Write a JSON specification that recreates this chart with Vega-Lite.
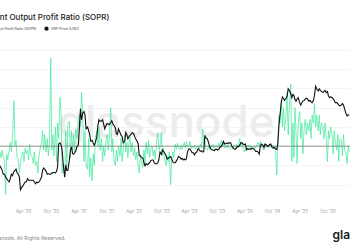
{
 "$schema": "https://vega.github.io/schema/vega-lite/v6.json",
 "width": 350,
 "height": 150,
 "autosize": {"type": "none"},
 "padding": {"left": 0, "right": 0, "top": 50, "bottom": 50},
 "background": "white",
 "config": {"font": "Inter", "view": {"stroke": null}},
 "title": {"text": "Spent Output Profit Ratio (SOPR)", "anchor": "start", "frame": "group", "fontSize": 8, "fontWeight": 500, "color": "#222222", "dx": -15, "offset": 4},
 "data": {"values": [
{"t":"2019-11-01","s":0.985,"p":0.31},{"t":"2019-11-08","s":0.97,"p":0.29},{"t":"2019-11-15","s":0.99,"p":0.27},{"t":"2019-11-22","s":0.975,"p":0.24},
{"t":"2019-12-01","s":0.96,"p":0.24},{"t":"2019-12-08","s":0.875,"p":0.22},{"t":"2019-12-15","s":0.98,"p":0.21},{"t":"2019-12-22","s":0.965,"p":0.20},
{"t":"2020-01-01","s":0.99,"p":0.19},{"t":"2020-01-08","s":1.01,"p":0.21},{"t":"2020-01-15","s":0.985,"p":0.24},{"t":"2020-01-22","s":1.02,"p":0.23},
{"t":"2020-02-01","s":1.118,"p":0.26},{"t":"2020-02-08","s":1.0,"p":0.27},{"t":"2020-02-15","s":1.015,"p":0.28},{"t":"2020-02-22","s":0.97,"p":0.25},
{"t":"2020-03-01","s":0.965,"p":0.24},{"t":"2020-03-08","s":0.93,"p":0.22},{"t":"2020-03-15","s":0.955,"p":0.15},{"t":"2020-03-22","s":0.975,"p":0.16},
{"t":"2020-04-01","s":0.985,"p":0.17},{"t":"2020-04-08","s":0.96,"p":0.18},{"t":"2020-04-15","s":0.995,"p":0.19},{"t":"2020-04-22","s":0.98,"p":0.19},
{"t":"2020-05-01","s":0.99,"p":0.21},{"t":"2020-05-08","s":0.965,"p":0.20},{"t":"2020-05-15","s":1.005,"p":0.20},{"t":"2020-05-22","s":0.98,"p":0.20},
{"t":"2020-06-01","s":0.97,"p":0.20},{"t":"2020-06-08","s":0.955,"p":0.20},{"t":"2020-06-15","s":0.985,"p":0.19},{"t":"2020-06-22","s":0.95,"p":0.18},
{"t":"2020-07-01","s":0.96,"p":0.19},{"t":"2020-07-08","s":0.93,"p":0.185},{"t":"2020-07-15","s":0.975,"p":0.19},{"t":"2020-07-22","s":0.99,"p":0.20},
{"t":"2020-08-01","s":1.01,"p":0.22},{"t":"2020-08-08","s":1.04,"p":0.27},{"t":"2020-08-15","s":0.99,"p":0.29},{"t":"2020-08-22","s":1.03,"p":0.28},
{"t":"2020-09-01","s":0.985,"p":0.26},{"t":"2020-09-08","s":1.02,"p":0.24},{"t":"2020-09-15","s":0.975,"p":0.245},{"t":"2020-09-22","s":1.005,"p":0.24},
{"t":"2020-10-01","s":1.229,"p":0.24},{"t":"2020-10-08","s":0.99,"p":0.25},{"t":"2020-10-15","s":1.03,"p":0.25},{"t":"2020-10-22","s":0.975,"p":0.255},
{"t":"2020-11-01","s":1.05,"p":0.25},{"t":"2020-11-08","s":0.96,"p":0.26},{"t":"2020-11-15","s":1.06,"p":0.30},{"t":"2020-11-22","s":1.02,"p":0.60},
{"t":"2020-12-01","s":1.127,"p":0.62},{"t":"2020-12-08","s":1.09,"p":0.58},{"t":"2020-12-15","s":0.93,"p":0.50},{"t":"2020-12-22","s":0.955,"p":0.33},
{"t":"2021-01-01","s":0.92,"p":0.22},{"t":"2021-01-08","s":1.04,"p":0.32},{"t":"2021-01-15","s":0.95,"p":0.27},{"t":"2021-01-22","s":1.06,"p":0.27},
{"t":"2021-02-01","s":1.065,"p":0.37},{"t":"2021-02-08","s":0.97,"p":0.50},{"t":"2021-02-15","s":1.04,"p":0.55},{"t":"2021-02-22","s":0.99,"p":0.45},
{"t":"2021-03-01","s":1.03,"p":0.44},{"t":"2021-03-08","s":0.985,"p":0.46},{"t":"2021-03-15","s":1.045,"p":0.48},{"t":"2021-03-22","s":1.02,"p":0.55},
{"t":"2021-04-01","s":1.06,"p":0.58},{"t":"2021-04-08","s":1.08,"p":0.98},{"t":"2021-04-15","s":1.05,"p":1.75},{"t":"2021-04-22","s":1.14,"p":1.25},
{"t":"2021-05-01","s":1.07,"p":1.55},{"t":"2021-05-08","s":0.96,"p":1.60},{"t":"2021-05-15","s":1.04,"p":1.45},{"t":"2021-05-22","s":0.95,"p":0.95},
{"t":"2021-06-01","s":0.94,"p":1.00},{"t":"2021-06-08","s":1.02,"p":0.90},{"t":"2021-06-15","s":0.92,"p":0.80},{"t":"2021-06-22","s":0.97,"p":0.65},
{"t":"2021-07-01","s":0.91,"p":0.67},{"t":"2021-07-08","s":0.98,"p":0.62},{"t":"2021-07-15","s":0.95,"p":0.58},{"t":"2021-07-22","s":1.02,"p":0.62},
{"t":"2021-08-01","s":1.04,"p":0.75},{"t":"2021-08-08","s":1.0,"p":1.05},{"t":"2021-08-15","s":1.05,"p":1.25},{"t":"2021-08-22","s":0.99,"p":1.20},
{"t":"2021-09-01","s":1.02,"p":1.20},{"t":"2021-09-08","s":0.96,"p":1.25},{"t":"2021-09-15","s":1.0,"p":1.10},{"t":"2021-09-22","s":0.975,"p":0.95},
{"t":"2021-10-01","s":1.015,"p":1.05},{"t":"2021-10-08","s":1.03,"p":1.12},{"t":"2021-10-15","s":0.99,"p":1.10},{"t":"2021-10-22","s":1.01,"p":1.08},
{"t":"2021-11-01","s":1.10,"p":1.15},{"t":"2021-11-08","s":0.985,"p":1.22},{"t":"2021-11-15","s":1.02,"p":1.10},{"t":"2021-11-22","s":0.965,"p":1.05},
{"t":"2021-12-01","s":0.95,"p":0.98},{"t":"2021-12-08","s":0.99,"p":0.82},{"t":"2021-12-15","s":0.96,"p":0.80},{"t":"2021-12-22","s":1.0,"p":0.95},
{"t":"2022-01-01","s":0.975,"p":0.85},{"t":"2022-01-08","s":1.02,"p":0.78},{"t":"2022-01-15","s":0.96,"p":0.76},{"t":"2022-01-22","s":0.99,"p":0.62},
{"t":"2022-02-01","s":1.03,"p":0.65},{"t":"2022-02-08","s":0.985,"p":0.85},{"t":"2022-02-15","s":1.01,"p":0.80},{"t":"2022-02-22","s":0.97,"p":0.70},
{"t":"2022-03-01","s":1.005,"p":0.75},{"t":"2022-03-08","s":1.025,"p":0.78},{"t":"2022-03-15","s":0.985,"p":0.80},{"t":"2022-03-22","s":1.01,"p":0.85},
{"t":"2022-04-01","s":0.975,"p":0.82},{"t":"2022-04-08","s":0.995,"p":0.75},{"t":"2022-04-15","s":0.965,"p":0.70},{"t":"2022-04-22","s":0.985,"p":0.66},
{"t":"2022-05-01","s":0.95,"p":0.60},{"t":"2022-05-08","s":0.93,"p":0.42},{"t":"2022-05-15","s":0.975,"p":0.42},{"t":"2022-05-22","s":0.96,"p":0.40},
{"t":"2022-06-01","s":0.945,"p":0.39},{"t":"2022-06-08","s":0.99,"p":0.34},{"t":"2022-06-15","s":0.955,"p":0.31},{"t":"2022-06-22","s":1.01,"p":0.33},
{"t":"2022-07-01","s":0.98,"p":0.32},{"t":"2022-07-08","s":1.015,"p":0.33},{"t":"2022-07-15","s":0.97,"p":0.34},{"t":"2022-07-22","s":0.99,"p":0.36},
{"t":"2022-08-01","s":1.0,"p":0.37},{"t":"2022-08-08","s":0.975,"p":0.37},{"t":"2022-08-15","s":0.99,"p":0.34},{"t":"2022-08-22","s":0.965,"p":0.33},
{"t":"2022-09-01","s":1.02,"p":0.33},{"t":"2022-09-08","s":1.035,"p":0.34},{"t":"2022-09-15","s":0.99,"p":0.38},{"t":"2022-09-22","s":1.0,"p":0.47},
{"t":"2022-10-01","s":1.034,"p":0.44},{"t":"2022-10-08","s":0.975,"p":0.50},{"t":"2022-10-15","s":0.995,"p":0.48},{"t":"2022-10-22","s":0.965,"p":0.46},
{"t":"2022-11-01","s":0.95,"p":0.42},{"t":"2022-11-08","s":0.975,"p":0.38},{"t":"2022-11-15","s":0.96,"p":0.39},{"t":"2022-11-22","s":0.985,"p":0.40},
{"t":"2022-12-01","s":0.90,"p":0.41},{"t":"2022-12-08","s":0.965,"p":0.38},{"t":"2022-12-15","s":0.985,"p":0.35},{"t":"2022-12-22","s":0.97,"p":0.34},
{"t":"2023-01-01","s":1.005,"p":0.34},{"t":"2023-01-08","s":0.992,"p":0.36},{"t":"2023-01-15","s":1.008,"p":0.38},{"t":"2023-01-22","s":0.997,"p":0.41},
{"t":"2023-02-01","s":0.99,"p":0.40},{"t":"2023-02-08","s":1.003,"p":0.38},{"t":"2023-02-15","s":0.992,"p":0.39},{"t":"2023-02-22","s":1.0,"p":0.37},
{"t":"2023-03-01","s":1.01,"p":0.38},{"t":"2023-03-08","s":0.995,"p":0.37},{"t":"2023-03-15","s":1.012,"p":0.38},{"t":"2023-03-22","s":1.0,"p":0.47},
{"t":"2023-04-01","s":1.0,"p":0.52},{"t":"2023-04-08","s":1.012,"p":0.51},{"t":"2023-04-15","s":0.992,"p":0.49},{"t":"2023-04-22","s":1.0,"p":0.46},
{"t":"2023-05-01","s":0.995,"p":0.46},{"t":"2023-05-08","s":1.003,"p":0.43},{"t":"2023-05-15","s":0.992,"p":0.46},{"t":"2023-05-22","s":0.998,"p":0.47},
{"t":"2023-06-01","s":1.0,"p":0.52},{"t":"2023-06-08","s":0.992,"p":0.50},{"t":"2023-06-15","s":1.005,"p":0.48},{"t":"2023-06-22","s":0.995,"p":0.49},
{"t":"2023-07-01","s":1.045,"p":0.47},{"t":"2023-07-08","s":1.005,"p":0.48},{"t":"2023-07-15","s":1.02,"p":0.78},{"t":"2023-07-22","s":0.993,"p":0.72},
{"t":"2023-08-01","s":0.99,"p":0.70},{"t":"2023-08-08","s":1.0,"p":0.63},{"t":"2023-08-15","s":0.992,"p":0.56},{"t":"2023-08-22","s":1.003,"p":0.52},
{"t":"2023-09-01","s":0.997,"p":0.50},{"t":"2023-09-08","s":1.005,"p":0.50},{"t":"2023-09-15","s":0.995,"p":0.49},{"t":"2023-09-22","s":1.0,"p":0.51},
{"t":"2023-10-01","s":1.003,"p":0.51},{"t":"2023-10-08","s":0.995,"p":0.50},{"t":"2023-10-15","s":1.008,"p":0.51},{"t":"2023-10-22","s":1.0,"p":0.54},
{"t":"2023-11-01","s":1.015,"p":0.56},{"t":"2023-11-08","s":1.0,"p":0.60},{"t":"2023-11-15","s":1.008,"p":0.65},{"t":"2023-11-22","s":0.995,"p":0.60},
{"t":"2023-12-01","s":1.003,"p":0.61},{"t":"2023-12-08","s":0.995,"p":0.62},{"t":"2023-12-15","s":1.005,"p":0.61},{"t":"2023-12-22","s":0.997,"p":0.62},
{"t":"2024-01-01","s":0.992,"p":0.62},{"t":"2024-01-08","s":1.0,"p":0.57},{"t":"2024-01-15","s":0.995,"p":0.54},{"t":"2024-01-22","s":1.003,"p":0.52},
{"t":"2024-02-01","s":0.997,"p":0.51},{"t":"2024-02-08","s":1.005,"p":0.53},{"t":"2024-02-15","s":0.995,"p":0.56},{"t":"2024-02-22","s":1.003,"p":0.55},
{"t":"2024-03-01","s":1.02,"p":0.58},{"t":"2024-03-08","s":1.0,"p":0.62},{"t":"2024-03-15","s":1.01,"p":0.63},{"t":"2024-03-22","s":0.995,"p":0.60},
{"t":"2024-04-01","s":0.985,"p":0.59},{"t":"2024-04-08","s":1.0,"p":0.60},{"t":"2024-04-15","s":0.992,"p":0.50},{"t":"2024-04-22","s":1.003,"p":0.52},
{"t":"2024-05-01","s":0.997,"p":0.51},{"t":"2024-05-08","s":1.003,"p":0.52},{"t":"2024-05-15","s":0.995,"p":0.51},{"t":"2024-05-22","s":1.0,"p":0.53},
{"t":"2024-06-01","s":0.992,"p":0.52},{"t":"2024-06-08","s":1.0,"p":0.50},{"t":"2024-06-15","s":0.995,"p":0.48},{"t":"2024-06-22","s":1.003,"p":0.48},
{"t":"2024-07-01","s":1.01,"p":0.47},{"t":"2024-07-08","s":1.0,"p":0.44},{"t":"2024-07-15","s":1.012,"p":0.56},{"t":"2024-07-22","s":0.997,"p":0.60},
{"t":"2024-08-01","s":1.0,"p":0.58},{"t":"2024-08-08","s":0.99,"p":0.54},{"t":"2024-08-15","s":1.005,"p":0.60},{"t":"2024-08-22","s":0.997,"p":0.59},
{"t":"2024-09-01","s":1.003,"p":0.56},{"t":"2024-09-08","s":0.995,"p":0.57},{"t":"2024-09-15","s":1.005,"p":0.59},{"t":"2024-09-22","s":1.0,"p":0.60},
{"t":"2024-10-01","s":0.997,"p":0.54},{"t":"2024-10-08","s":1.003,"p":0.53},{"t":"2024-10-15","s":0.995,"p":0.54},{"t":"2024-10-22","s":1.0,"p":0.52},
{"t":"2024-11-01","s":0.925,"p":0.51},{"t":"2024-11-08","s":1.02,"p":0.62},{"t":"2024-11-15","s":1.08,"p":1.05},{"t":"2024-11-22","s":1.06,"p":1.45},
{"t":"2024-12-01","s":1.12,"p":2.15},{"t":"2024-12-08","s":1.05,"p":2.50},{"t":"2024-12-15","s":1.10,"p":2.40},{"t":"2024-12-22","s":1.04,"p":2.25},
{"t":"2025-01-01","s":1.08,"p":2.40},{"t":"2025-01-08","s":1.14,"p":2.55},{"t":"2025-01-15","s":1.03,"p":3.20},{"t":"2025-01-22","s":1.10,"p":3.05},
{"t":"2025-02-01","s":1.162,"p":2.75},{"t":"2025-02-08","s":0.96,"p":2.45},{"t":"2025-02-15","s":1.06,"p":2.70},{"t":"2025-02-22","s":0.97,"p":2.60},
{"t":"2025-03-01","s":1.10,"p":2.30},{"t":"2025-03-08","s":1.03,"p":2.20},{"t":"2025-03-15","s":0.955,"p":2.35},{"t":"2025-03-22","s":1.06,"p":2.45},
{"t":"2025-04-01","s":1.09,"p":2.10},{"t":"2025-04-08","s":1.02,"p":1.95},{"t":"2025-04-15","s":1.06,"p":2.10},{"t":"2025-04-22","s":0.98,"p":2.20},
{"t":"2025-05-01","s":1.05,"p":2.25},{"t":"2025-05-08","s":1.07,"p":2.35},{"t":"2025-05-15","s":1.03,"p":2.40},{"t":"2025-05-22","s":1.06,"p":2.35},
{"t":"2025-06-01","s":1.04,"p":2.20},{"t":"2025-06-08","s":1.07,"p":2.25},{"t":"2025-06-15","s":1.02,"p":2.15},{"t":"2025-06-22","s":1.08,"p":2.10},
{"t":"2025-07-01","s":1.06,"p":2.25},{"t":"2025-07-08","s":1.11,"p":2.65},{"t":"2025-07-15","s":1.05,"p":3.45},{"t":"2025-07-22","s":1.08,"p":3.20},
{"t":"2025-08-01","s":1.04,"p":3.00},{"t":"2025-08-08","s":1.08,"p":3.20},{"t":"2025-08-15","s":1.03,"p":3.05},{"t":"2025-08-22","s":1.06,"p":2.95},
{"t":"2025-09-01","s":1.05,"p":2.85},{"t":"2025-09-08","s":1.02,"p":2.95},{"t":"2025-09-15","s":1.06,"p":3.05},{"t":"2025-09-22","s":1.025,"p":2.85},
{"t":"2025-10-01","s":0.96,"p":2.95},{"t":"2025-10-08","s":1.04,"p":2.55},{"t":"2025-10-15","s":1.02,"p":2.45},{"t":"2025-10-22","s":1.05,"p":2.50},
{"t":"2025-11-01","s":1.03,"p":2.45},{"t":"2025-11-08","s":0.98,"p":2.35},{"t":"2025-11-15","s":1.04,"p":2.25},{"t":"2025-11-22","s":1.01,"p":2.10},
{"t":"2025-12-01","s":0.99,"p":2.10},{"t":"2025-12-08","s":1.03,"p":2.05},{"t":"2025-12-15","s":0.96,"p":1.95},{"t":"2025-12-22","s":1.02,"p":1.90},
{"t":"2026-01-01","s":1.015,"p":1.95},{"t":"2026-01-08","s":0.975,"p":2.05},{"t":"2026-01-15","s":1.03,"p":1.95},{"t":"2026-01-22","s":0.99,"p":1.75},
{"t":"2026-02-01","s":0.98,"p":1.50},{"t":"2026-02-08","s":0.955,"p":1.40},{"t":"2026-02-15","s":1.0,"p":1.45},{"t":"2026-02-22","s":0.985,"p":1.45}
 ]},
 "layer": [
  {
   "layer": [
    {
     "data": {"values": [{}]},
     "mark": {"type": "text", "text": "glassnode", "font": "Inter", "fontSize": 44, "fontWeight": 500, "color": "#ececec", "align": "center", "baseline": "alphabetic"},
     "encoding": {
      "x": {"datum": {"year": 2022, "month": 11, "date": 1, "utc": true}, "type": "temporal", "scale": {"domain": [{"year": 2019, "month": 11, "date": 1, "utc": true}, {"year": 2026, "month": 2, "date": 27, "utc": true}], "nice": false},
       "axis": {"values": [{"year": 2020, "month": 4, "date": 1, "utc": true}, {"year": 2020, "month": 10, "date": 1, "utc": true}, {"year": 2021, "month": 4, "date": 1, "utc": true}, {"year": 2021, "month": 10, "date": 1, "utc": true}, {"year": 2022, "month": 4, "date": 1, "utc": true}, {"year": 2022, "month": 10, "date": 1, "utc": true}, {"year": 2023, "month": 4, "date": 1, "utc": true}, {"year": 2023, "month": 10, "date": 1, "utc": true}, {"year": 2024, "month": 4, "date": 1, "utc": true}, {"year": 2024, "month": 10, "date": 1, "utc": true}, {"year": 2025, "month": 4, "date": 1, "utc": true}, {"year": 2025, "month": 10, "date": 1, "utc": true}],
        "labelExpr": "utcFormat(datum.value, \"%b '%y\")", "labelFontSize": 4.5, "labelColor": "#999999", "labelOverlap": false, "labelFlush": false, "ticks": false, "domain": false, "grid": false, "labelPadding": 8,
        "title": "© 2025 Glassnode. All Rights Reserved.", "titleX": -33, "titleY": 37, "titleAlign": "left", "titleBaseline": "middle", "titleFontSize": 5.2, "titleFontWeight": "normal", "titleColor": "#888888"}},
      "y": {"datum": 1.024, "type": "quantitative", "scale": {"domain": [0.86, 1.25], "nice": false, "zero": false}, "axis": {"values": [0.9, 0.95, 1, 1.05, 1.1, 1.15, 1.2, 1.25], "labels": false, "ticks": false, "domain": false, "title": null, "grid": true, "gridColor": "#f1f1f1", "gridWidth": 0.8}}
     }
    },
    {
     "mark": {"type": "line", "strokeWidth": 0.7, "clip": true},
     "encoding": {
      "x": {"field": "t", "type": "temporal", "scale": {"domain": [{"year": 2019, "month": 11, "date": 1, "utc": true}, {"year": 2026, "month": 2, "date": 27, "utc": true}], "nice": false},
       "axis": {"values": [{"year": 2020, "month": 4, "date": 1, "utc": true}, {"year": 2020, "month": 10, "date": 1, "utc": true}, {"year": 2021, "month": 4, "date": 1, "utc": true}, {"year": 2021, "month": 10, "date": 1, "utc": true}, {"year": 2022, "month": 4, "date": 1, "utc": true}, {"year": 2022, "month": 10, "date": 1, "utc": true}, {"year": 2023, "month": 4, "date": 1, "utc": true}, {"year": 2023, "month": 10, "date": 1, "utc": true}, {"year": 2024, "month": 4, "date": 1, "utc": true}, {"year": 2024, "month": 10, "date": 1, "utc": true}, {"year": 2025, "month": 4, "date": 1, "utc": true}, {"year": 2025, "month": 10, "date": 1, "utc": true}],
        "labelExpr": "utcFormat(datum.value, \"%b '%y\")", "labelFontSize": 4.5, "labelColor": "#999999", "labelOverlap": false, "labelFlush": false, "ticks": false, "domain": false, "grid": false, "labelPadding": 8,
        "title": "© 2025 Glassnode. All Rights Reserved.", "titleX": -33, "titleY": 37, "titleAlign": "left", "titleBaseline": "middle", "titleFontSize": 5.2, "titleFontWeight": "normal", "titleColor": "#888888"}},
      "y": {"field": "s", "type": "quantitative", "scale": {"domain": [0.86, 1.25], "nice": false, "zero": false}, "axis": {"values": [0.9, 0.95, 1, 1.05, 1.1, 1.15, 1.2, 1.25], "labels": false, "ticks": false, "domain": false, "title": null, "grid": true, "gridColor": "#f1f1f1", "gridWidth": 0.8}},
      "color": {"datum": "Spent Output Profit Ratio (SOPR)", "type": "nominal", "scale": {"domain": ["Spent Output Profit Ratio (SOPR)", "XRP Price (USD)"], "range": ["#3ee89a", "#111111"]},
       "legend": {"orient": "none", "legendX": -26, "legendY": -24, "direction": "horizontal", "title": null, "labelFontSize": 3.6, "labelColor": "#444444", "symbolType": "circle", "symbolSize": 5, "symbolStrokeWidth": 2, "columnPadding": 4, "labelOffset": 2}}
     }
    },
    {
     "data": {"values": [{}]},
     "mark": {"type": "rule", "color": "#777777", "strokeWidth": 0.8},
     "encoding": {
      "y": {"datum": 1, "type": "quantitative", "scale": {"domain": [0.86, 1.25], "nice": false, "zero": false}, "axis": {"values": [0.9, 0.95, 1, 1.05, 1.1, 1.15, 1.2, 1.25], "labels": false, "ticks": false, "domain": false, "title": null, "grid": true, "gridColor": "#f1f1f1", "gridWidth": 0.8}}
     }
    }
   ]
  },
  {
   "mark": {"type": "line", "strokeWidth": 1.1, "clip": true},
   "encoding": {
    "x": {"field": "t", "type": "temporal", "scale": {"domain": [{"year": 2019, "month": 11, "date": 1, "utc": true}, {"year": 2026, "month": 2, "date": 27, "utc": true}], "nice": false},
     "axis": {"values": [{"year": 2020, "month": 4, "date": 1, "utc": true}, {"year": 2020, "month": 10, "date": 1, "utc": true}, {"year": 2021, "month": 4, "date": 1, "utc": true}, {"year": 2021, "month": 10, "date": 1, "utc": true}, {"year": 2022, "month": 4, "date": 1, "utc": true}, {"year": 2022, "month": 10, "date": 1, "utc": true}, {"year": 2023, "month": 4, "date": 1, "utc": true}, {"year": 2023, "month": 10, "date": 1, "utc": true}, {"year": 2024, "month": 4, "date": 1, "utc": true}, {"year": 2024, "month": 10, "date": 1, "utc": true}, {"year": 2025, "month": 4, "date": 1, "utc": true}, {"year": 2025, "month": 10, "date": 1, "utc": true}],
      "labelExpr": "utcFormat(datum.value, \"%b '%y\")", "labelFontSize": 4.5, "labelColor": "#999999", "labelOverlap": false, "labelFlush": false, "ticks": false, "domain": false, "grid": false, "labelPadding": 8,
      "title": "© 2025 Glassnode. All Rights Reserved.", "titleX": -33, "titleY": 37, "titleAlign": "left", "titleBaseline": "middle", "titleFontSize": 5.2, "titleFontWeight": "normal", "titleColor": "#888888"}},
    "y": {"field": "p", "type": "quantitative", "scale": {"type": "log", "domain": [0.11, 10.35], "nice": false},
     "axis": {"orient": "right", "labels": false, "ticks": false, "domain": false, "grid": false, "title": "glassnode", "titleAngle": 0, "titleX": -18, "titleY": 188, "titleAlign": "left", "titleBaseline": "alphabetic", "titleFontSize": 12, "titleFontWeight": 600, "titleColor": "#1a1a1a"}},
    "color": {"datum": "XRP Price (USD)", "type": "nominal"}
   }
  }
 ],
 "resolve": {"scale": {"y": "independent"}}
}
